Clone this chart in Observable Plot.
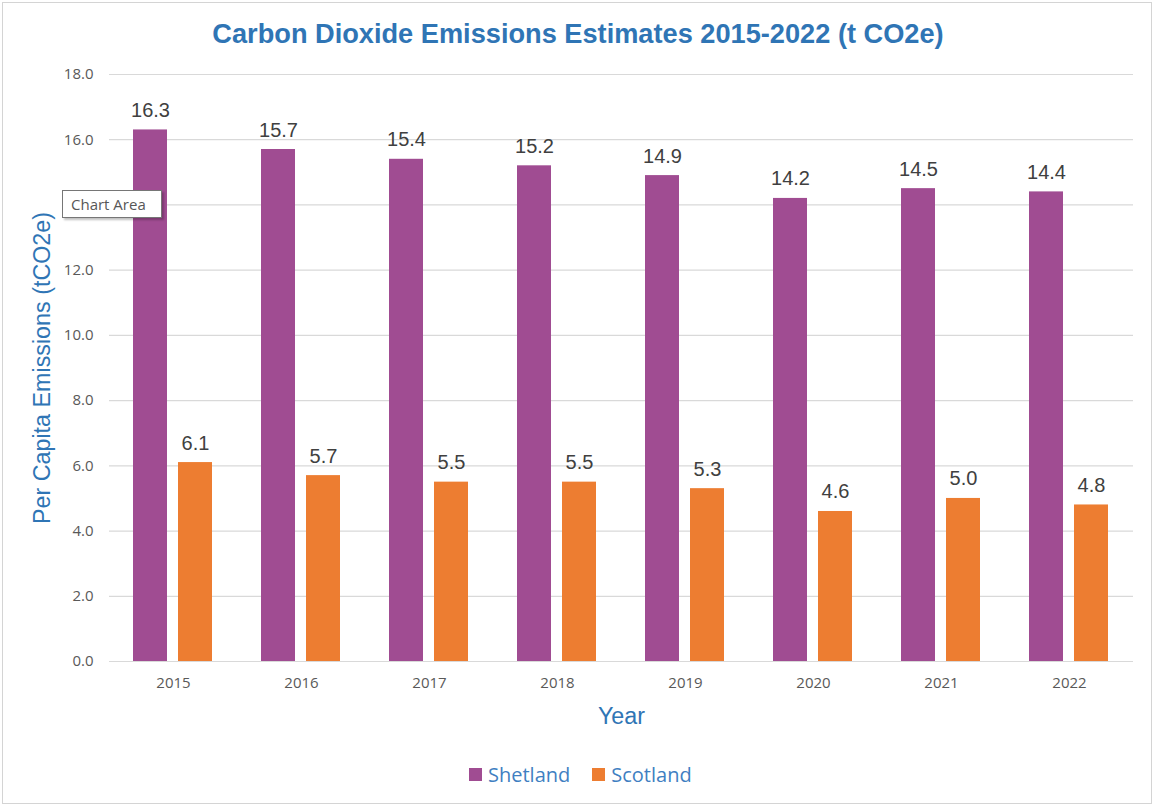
<!DOCTYPE html>
<html>
<head>
<meta charset="utf-8">
<script src="https://cdn.jsdelivr.net/npm/d3@7"></script>
<script src="https://cdn.jsdelivr.net/npm/@observablehq/plot@0.6"></script>
<style>
  html, body { margin: 0; padding: 0; background: #fff; }
  #wrap { position: relative; width: 1158px; height: 808px; overflow: hidden; }
  #frame { position: absolute; left: 2px; top: 2px; width: 1150px; height: 802px; border: 1px solid #d4d4d4; box-sizing: border-box; }
  #title { position: absolute; left: 0; top: 20px; width: 1156px; text-align: center;
           font: bold 27.2px "Liberation Sans", Arial, sans-serif; line-height: 27px; color: #2F75B5; }
  #chart { position: absolute; left: 0; top: 0; }
  #legend { position: absolute; left: 469px; top: 762px; height: 24px; display: flex; align-items: center;
            font: 20px "Open Sans", sans-serif; color: #3F7FC2; }
  #legend .sw { width: 13px; height: 13px; margin-right: 6px; }
  #legend .item { display: flex; align-items: center; margin-right: 22px; }
  #tip { position: absolute; left: 62px; top: 190px; width: 100px; height: 28px; box-sizing: border-box;
         border: 1px solid #767676; background: #fff; box-shadow: 2px 2px 2px rgba(0,0,0,0.25);
         font: 15px "Open Sans", sans-serif; color: #575757; line-height: 26px; padding-left: 8px; }
  #chart [aria-label="y-axis label"] text, #chart [aria-label="fx-axis label"] text {
    font-family: "Liberation Sans", Arial, sans-serif; font-size: 23.3px; fill: #2F75B5; }
</style>
</head>
<body>
<div id="wrap">
  <div id="frame"></div>
  <div id="chart"></div>
  <div id="title"></div>
  <div id="legend"></div>
  <div id="tip">Chart Area</div>
</div>
<script>
const titleText = "Carbon Dioxide Emissions Estimates 2015-2022 (t CO2e)";
const years = ["2015", "2016", "2017", "2018", "2019", "2020", "2021", "2022"];
const series = ["Shetland", "Scotland"];
const shetland = [16.3, 15.7, 15.4, 15.2, 14.9, 14.2, 14.5, 14.4];
const scotland = [6.1, 5.7, 5.5, 5.5, 5.3, 4.6, 5.0, 4.8];
const colors = ["#A04C92", "#ED7D31"];
const yTicks = [0, 2, 4, 6, 8, 10, 12, 14, 16, 18];
const yLabel = "Per Capita Emissions (tCO2e)";
const xLabel = "Year";

const data = [];
years.forEach((yr, i) => {
  data.push({year: yr, series: series[0], value: shetland[i]});
  data.push({year: yr, series: series[1], value: scotland[i]});
});

document.getElementById("title").textContent = titleText;

const chart = Plot.plot({
  width: 1158,
  height: 808,
  marginTop: 74,
  marginBottom: 147,
  marginLeft: 108,
  marginRight: 25,
  style: {fontFamily: "'Open Sans', sans-serif", fontSize: "15px", color: "#595959", background: "transparent"},
  fx: {domain: years, padding: 0, axis: "bottom", label: xLabel, labelAnchor: "center", labelOffset: 62, tickSize: 0, tickPadding: 16},
  x: {domain: series, paddingInner: 0.244, paddingOuter: 0.544, axis: null},
  y: {domain: [0, 18], ticks: yTicks, tickFormat: d3.format(".1f"), grid: false, label: yLabel, labelArrow: "none", labelAnchor: "center", labelOffset: 76, tickSize: 0, tickPadding: 16},
  color: {domain: series, range: colors},
  marks: [
    Plot.ruleY(yTicks, {stroke: "#d9d9d9", strokeWidth: 1.2}),
    Plot.barY(data, {fx: "year", x: "series", y: "value", fill: "series"}),
    Plot.text(data, {fx: "year", x: "series", y: "value", text: d => d.value.toFixed(1), lineAnchor: "bottom", dy: -13,
      fontFamily: "'Liberation Sans', Arial, sans-serif", fontSize: 20, fill: "#404040"})
  ]
});
document.getElementById("chart").appendChild(chart);
// ensure no arrow on axis labels
chart.querySelectorAll('[aria-label="y-axis label"] text').forEach(t => { t.textContent = yLabel; });

const legend = document.getElementById("legend");
series.forEach((s, i) => {
  const item = document.createElement("div");
  item.className = "item";
  const sw = document.createElement("div");
  sw.className = "sw";
  sw.style.background = colors[i];
  const lab = document.createElement("span");
  lab.textContent = s;
  item.appendChild(sw);
  item.appendChild(lab);
  legend.appendChild(item);
});
</script>
</body>
</html>
